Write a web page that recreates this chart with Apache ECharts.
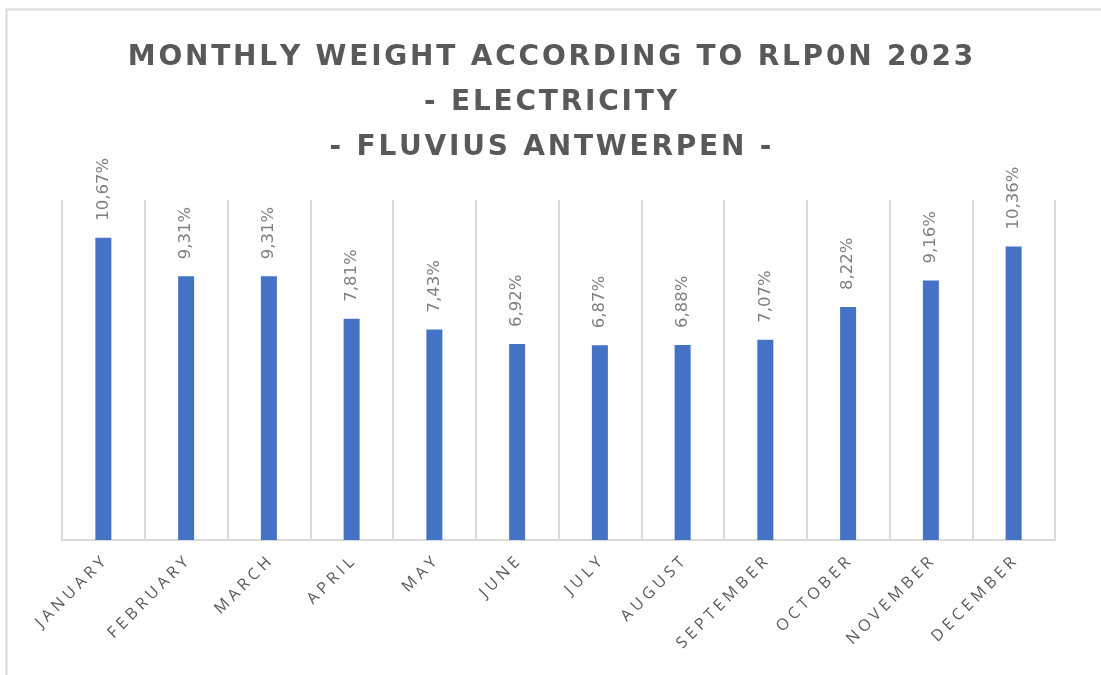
<!DOCTYPE html>
<html>
<head>
<meta charset="utf-8">
<script src="https://cdn.jsdelivr.net/npm/echarts@6/dist/echarts.min.js"></script>
<style>
  html, body { margin: 0; padding: 0; background: #fff; }
  #chart { width: 1101px; height: 675px; }
</style>
</head>
<body>
<div id="chart"></div>
<script>
const months = ['JANUARY', 'FEBRUARY', 'MARCH', 'APRIL', 'MAY', 'JUNE',
  'JULY', 'AUGUST', 'SEPTEMBER', 'OCTOBER', 'NOVEMBER', 'DECEMBER'];
const weights = [10.67, 9.31, 9.31, 7.81, 7.43, 6.92, 6.87, 6.88, 7.07, 8.22, 9.16, 10.36];
const titleLines = ['MONTHLY WEIGHT ACCORDING TO RLP0N 2023', '- ELECTRICITY', '- FLUVIUS ANTWERPEN -'];

// fake letter spacing, zrender has none
const spaced = (s, sep) => s.split('').join(sep);

const chart = echarts.init(document.getElementById('chart'));

const option = {
  animation: false,
  backgroundColor: '#fff',
  title: {
    text: titleLines.map(l => spaced(l, '\u200A')).join('\n'),
    left: 'center',
    top: 30,
    textStyle: {
      fontFamily: 'DejaVu Sans',
      fontWeight: 'bold',
      fontSize: 28,
      lineHeight: 45,
      color: '#595959'
    }
  },
  graphic: [{
    type: 'rect',
    shape: { x: 6.5, y: 9.5, width: 1200, height: 800 },
    style: { fill: 'none', stroke: '#d9d9d9', lineWidth: 2 },
    silent: true
  }],
  grid: { left: 62, right: 46, top: 200, bottom: 135 },
  xAxis: {
    type: 'category',
    data: months,
    axisLine: { lineStyle: { color: '#d9d9d9', width: 2 } },
    axisTick: { show: false },
    splitLine: { show: true, lineStyle: { color: '#d9d9d9', width: 2 } },
    axisLabel: {
      rotate: 45,
      margin: 20,
      interval: 0,
      fontFamily: 'Open Sans',
      fontSize: 16,
      color: '#595959',
      formatter: v => spaced(v, ' ')
    }
  },
  yAxis: {
    type: 'value',
    min: 0,
    max: 12,
    show: false
  },
  series: [{
    type: 'bar',
    data: weights,
    barWidth: 16,
    itemStyle: { color: '#4472c4' },
    label: {
      show: true,
      position: 'top',
      rotate: 90,
      align: 'left',
      verticalAlign: 'middle',
      distance: 17,
      fontFamily: 'DejaVu Sans',
      fontSize: 16.5,
      color: '#7f7f7f',
      formatter: p => p.value.toFixed(2).replace('.', ',') + '%'
    }
  }]
};

chart.setOption(option);
</script>
</body>
</html>
